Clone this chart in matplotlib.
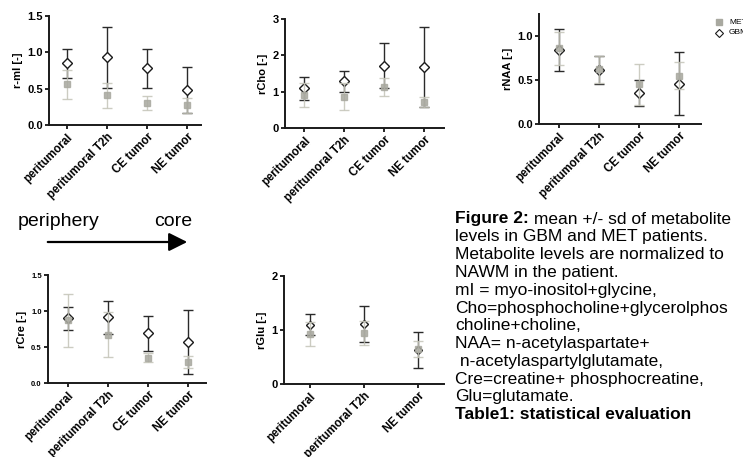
import numpy as np
import matplotlib
matplotlib.use('Agg')
import matplotlib.pyplot as plt
from matplotlib.patches import FancyArrowPatch

plt.rcParams['font.family'] = ['Liberation Sans', 'DejaVu Sans']

# categories
cats4 = ['peritumoral', 'peritumoral T2h', 'CE tumor', 'NE tumor']
cats_glu = ['peritumoral', 'peritumoral T2h', 'NE tumor']

# mean / sd per metabolite (GBM, MET)
mI_gbm = [0.85, 0.93, 0.78, 0.48]
mI_gbm_sd = [0.20, 0.42, 0.27, 0.32]
mI_met = [0.56, 0.41, 0.30, 0.27]
mI_met_sd = [0.20, 0.17, 0.10, 0.10]

cho_gbm = [1.09, 1.29, 1.72, 1.69]
cho_gbm_sd = [0.32, 0.29, 0.63, 1.10]
cho_met = [0.92, 0.86, 1.12, 0.72]
cho_met_sd = [0.33, 0.37, 0.25, 0.14]

naa_gbm = [0.84, 0.61, 0.35, 0.46]
naa_gbm_sd = [0.24, 0.16, 0.15, 0.36]
naa_met = [0.86, 0.62, 0.45, 0.55]
naa_met_sd = [0.19, 0.15, 0.23, 0.15]

cre_gbm = [0.90, 0.91, 0.69, 0.57]
cre_gbm_sd = [0.16, 0.23, 0.24, 0.45]
cre_met = [0.87, 0.67, 0.35, 0.29]
cre_met_sd = [0.37, 0.31, 0.06, 0.08]

glu_gbm = [1.10, 1.11, 0.63]
glu_gbm_sd = [0.20, 0.34, 0.33]
glu_met = [0.92, 0.94, 0.65]
glu_met_sd = [0.22, 0.22, 0.15]

caption = [
    'levels in GBM and MET patients.',
    'Metabolite levels are normalized to',
    'NAWM in the patient.',
    'mI = myo-inositol+glycine,',
    'Cho=phosphocholine+glycerolphos',
    'choline+choline,',
    'NAA= n-acetylaspartate+',
    ' n-acetylaspartylglutamate,',
    'Cre=creatine+ phosphocreatine,',
    'Glu=glutamate.',
]

W, H = 743, 457
fig = plt.figure(figsize=(W / 100, H / 100), dpi=100)


def px_axes(left, top, right, bottom):
    return fig.add_axes([left / W, 1 - bottom / H, (right - left) / W, (bottom - top) / H])


def draw_panel(ax, cats, gbm, gbm_sd, met, met_sd, ylim, yticks, fmt, ylabel,
               xlim, ytick_size=8, dsize=5.2):
    x = np.arange(len(cats))
    ax.errorbar(x, gbm, yerr=gbm_sd, fmt='D', color='#2a2a2a', mfc='white', mec='#1a1a1a',
                ms=dsize, mew=1.0, elinewidth=1.0, capsize=3.5, capthick=1.0, zorder=3)
    ax.errorbar(x, met, yerr=met_sd, fmt='s', color='#c4c4b8', mfc='#a9a9a0', mec='#a9a9a0',
                ms=4.5, elinewidth=1.0, capsize=3.5, capthick=1.0, alpha=0.85, zorder=4)
    ax.set_xlim(*xlim)
    ax.set_ylim(*ylim)
    ax.set_yticks(yticks)
    ax.set_yticklabels([fmt.format(v) for v in yticks], fontsize=ytick_size, fontweight='bold')
    ax.set_xticks(x)
    ax.set_xticklabels(cats, rotation=45, ha='right', rotation_mode='anchor',
                       fontsize=8.3, fontweight='bold')
    ax.set_ylabel(ylabel, fontsize=8, fontweight='bold', labelpad=3)
    for s in ['top', 'right']:
        ax.spines[s].set_visible(False)
    for s in ['left', 'bottom']:
        ax.spines[s].set_linewidth(1.4)
        ax.spines[s].set_color('#1a1a1a')
    ax.tick_params(axis='both', direction='out', length=3, width=1.2, pad=1.5)
    ax.patch.set_alpha(0)


ax1 = px_axes(49, 16, 201, 125)
draw_panel(ax1, cats4, mI_gbm, mI_gbm_sd, mI_met, mI_met_sd, (0, 1.5),
           [0, 0.5, 1.0, 1.5], '{:.1f}', 'r-mI [-]', (-0.45, 3.35))

ax2 = px_axes(285, 19, 444, 128)
draw_panel(ax2, cats4, cho_gbm, cho_gbm_sd, cho_met, cho_met_sd, (0, 3),
           [0, 1, 2, 3], '{:.0f}', 'rCho [-]', (-0.48, 3.5))

ax3 = px_axes(539, 14, 701, 124)
draw_panel(ax3, cats4, naa_gbm, naa_gbm_sd, naa_met, naa_met_sd, (0, 1.25),
           [0, 0.5, 1.0], '{:.1f}', 'rNAA [-]', (-0.5, 3.55))

ax4 = px_axes(48, 275, 206, 383)
draw_panel(ax4, cats4, cre_gbm, cre_gbm_sd, cre_met, cre_met_sd, (0, 1.5),
           [0, 0.5, 1.0, 1.5], '{:.1f}', 'rCre [-]', (-0.5, 3.45), ytick_size=5.5)

ax5 = px_axes(284, 276, 444, 384)
draw_panel(ax5, cats_glu, glu_gbm, glu_gbm_sd, glu_met, glu_met_sd, (0, 2),
           [0, 1, 2], '{:.0f}', 'rGlu [-]', (-0.48, 2.48), dsize=4.5)

# legend (cut off at the right edge like the original)
fig.lines.append(plt.Line2D([719 / W], [1 - 22 / H], marker='s', ms=4, color='#a9a9a0',
                            transform=fig.transFigure))
fig.lines.append(plt.Line2D([719 / W], [1 - 33 / H], marker='D', ms=4, mfc='white',
                            mec='#1a1a1a', mew=0.8, color='none', transform=fig.transFigure))
fig.text(729 / W, 1 - 22 / H, 'MET', fontsize=6, va='center')
fig.text(729 / W, 1 - 33 / H, 'GBM', fontsize=6, va='center')

# periphery -> core arrow
fig.text(18 / W, 1 - 221 / H, 'periphery', fontsize=14, va='center')
fig.text(154 / W, 1 - 221 / H, 'core', fontsize=14, va='center')
fig.add_artist(FancyArrowPatch(
    (45 / W, 1 - 242 / H), (190 / W, 1 - 242 / H), transform=fig.transFigure,
    arrowstyle='-|>,head_length=8,head_width=4', mutation_scale=1.4, lw=1.6, color='black'))

# caption
x0 = 455 / W
y0 = 219
step = 17.8
fs = 12.5
t = fig.text(x0, 1 - y0 / H, 'Figure 2:', fontsize=fs, fontweight='bold', va='center')
fig.add_artist(plt.Annotation(' mean +/- sd of metabolite', xy=(1, 0.5), xycoords=t,
                              va='center', ha='left', fontsize=fs, annotation_clip=False))
for i, line in enumerate(caption):
    fig.text(x0, 1 - (y0 + step * (i + 1)) / H, line, fontsize=fs, va='center')
fig.text(x0, 1 - (y0 + step * (len(caption) + 1)) / H, 'Table1: statistical evaluation',
         fontsize=fs, fontweight='bold', va='center')

fig.savefig('out.png', dpi=100, facecolor='white')
